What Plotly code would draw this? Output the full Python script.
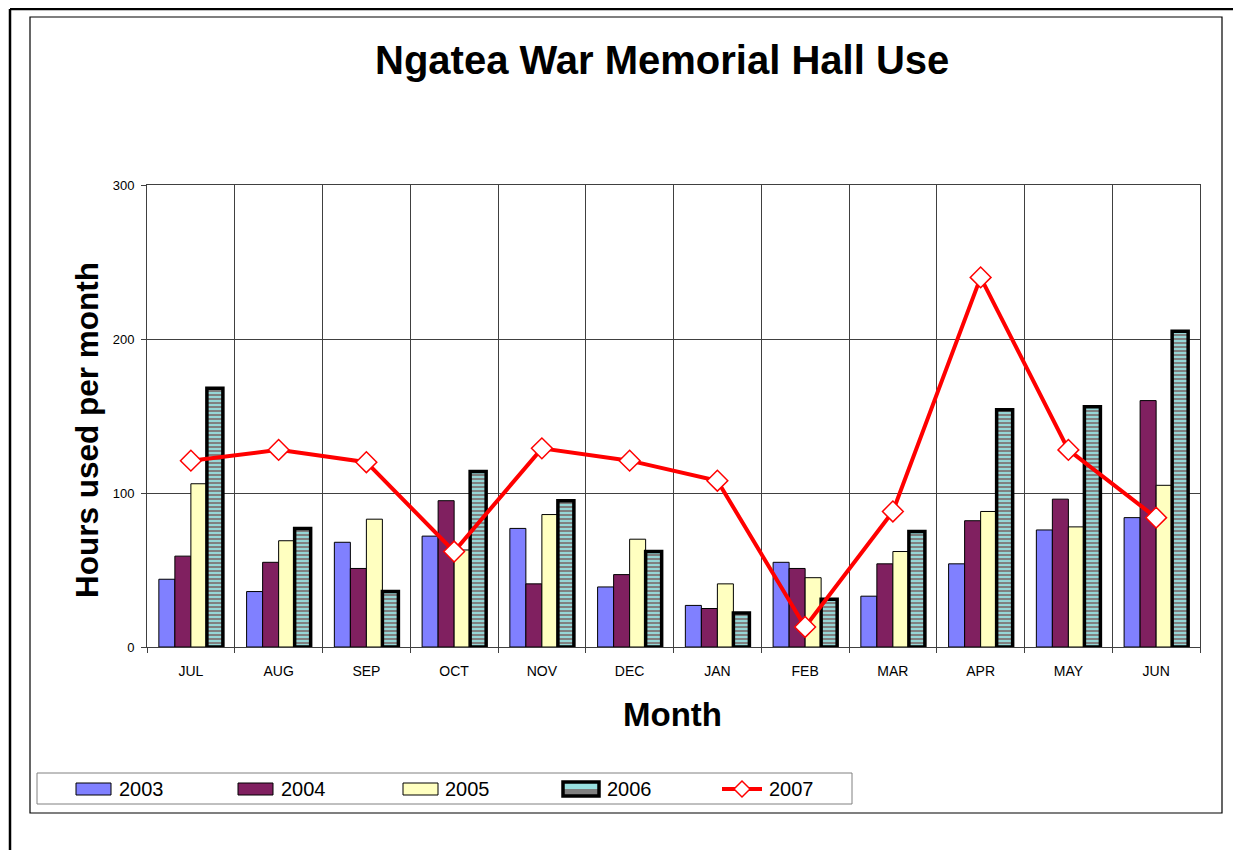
import plotly.graph_objects as go

# ---------------- data ----------------
months = ["JUL", "AUG", "SEP", "OCT", "NOV", "DEC", "JAN", "FEB", "MAR", "APR", "MAY", "JUN"]
y2003 = [44, 36, 68, 72, 77, 39, 27, 55, 33, 54, 76, 84]
y2004 = [59, 55, 51, 95, 41, 47, 25, 51, 54, 82, 96, 160]
y2005 = [106, 69, 83, 63, 86, 70, 41, 45, 62, 88, 78, 105]
y2006 = [168, 77, 36, 114, 95, 62, 22, 31, 75, 154, 156, 205]
y2007 = [121, 128, 120, 62, 129, 121, 108, 13, 88, 240, 128, 84]
series_names = ["2003", "2004", "2005", "2006", "2007"]
y_ticks = [0, 100, 200, 300]

# ---------------- geometry (page pixels; page body has an 8px margin) ----------------
OFF = 8
W, H = 1241 - OFF, 850 - OFF
PL, PR, PT, PB = 147, 1200, 185, 647   # plot area in page pixels


def px(x):
    return (x - PL) / (PR - PL)


def py(y):
    return (PB - y) / (PB - PT)


FONT = "Liberation Sans, Arial, sans-serif"
C2003, C2004, C2005 = "#8080FF", "#802060", "#FFFFC0"
C2006_BG, C2006_FG = "#99E0E0", "#808080"

fig = go.Figure()
fig.add_trace(go.Bar(x=months, y=y2003, name=series_names[0],
                     marker=dict(color=C2003, line=dict(color="#000000", width=1))))
fig.add_trace(go.Bar(x=months, y=y2004, name=series_names[1],
                     marker=dict(color=C2004, line=dict(color="#000000", width=1))))
fig.add_trace(go.Bar(x=months, y=y2005, name=series_names[2],
                     marker=dict(color=C2005, line=dict(color="#000000", width=1))))
fig.add_trace(go.Bar(x=months, y=y2006, name=series_names[3],
                     marker=dict(color=C2006_BG,
                                 pattern=dict(shape="-", fgcolor=C2006_FG, bgcolor=C2006_BG,
                                              size=4, solidity=0.55, fillmode="replace"),
                                 line=dict(color="#000000", width=3.5))))
fig.add_trace(go.Scatter(x=months, y=y2007, name=series_names[4], mode="lines+markers",
                         line=dict(color="#FF0000", width=4),
                         marker=dict(symbol="diamond", size=16, color="#FFFFFF",
                                     line=dict(color="#FF0000", width=1.5))))

shapes = []
# outer frame (thick) and inner frame (thin)
shapes.append(dict(type="line", xref="paper", yref="paper", x0=px(10), x1=px(1250),
                   y0=py(9), y1=py(9), line=dict(color="#000000", width=2.5)))
shapes.append(dict(type="line", xref="paper", yref="paper", x0=px(10), x1=px(10),
                   y0=py(9), y1=py(860), line=dict(color="#000000", width=2.5)))
shapes.append(dict(type="rect", xref="paper", yref="paper", x0=px(30), x1=px(1222),
                   y0=py(17), y1=py(813), line=dict(color="#000000", width=1.2)))
# legend box
shapes.append(dict(type="rect", xref="paper", yref="paper", x0=px(37), x1=px(852),
                   y0=py(773), y1=py(804), line=dict(color="#808080", width=1)))

annotations = []
leg_items = [(76, C2003, series_names[0], 117), (238, C2004, series_names[1], 279),
             (403, C2005, series_names[2], 443), (563, None, series_names[3], 605)]
for x0, col, name, tx in leg_items:
    if col is not None:
        shapes.append(dict(type="rect", xref="paper", yref="paper", x0=px(x0), x1=px(x0 + 35),
                           y0=py(783), y1=py(795), fillcolor=col,
                           line=dict(color="#000000", width=1)))
    else:
        shapes.append(dict(type="rect", xref="paper", yref="paper", x0=px(x0), x1=px(x0 + 36),
                           y0=py(783), y1=py(789), fillcolor=C2006_BG, line=dict(width=0)))
        shapes.append(dict(type="rect", xref="paper", yref="paper", x0=px(x0), x1=px(x0 + 36),
                           y0=py(789), y1=py(795), fillcolor=C2006_FG, line=dict(width=0)))
        shapes.append(dict(type="rect", xref="paper", yref="paper", x0=px(x0), x1=px(x0 + 36),
                           y0=py(782), y1=py(796), line=dict(color="#000000", width=3.5)))
    annotations.append(dict(text=name, xref="paper", yref="paper", x=px(tx), y=py(789),
                            xanchor="left", yanchor="middle", showarrow=False,
                            font=dict(family=FONT, size=20, color="#000000")))
# 2007 legend: red line + diamond
shapes.append(dict(type="line", xref="paper", yref="paper", x0=px(722), x1=px(762),
                   y0=py(789), y1=py(789), line=dict(color="#FF0000", width=4)))
cx, cy, r = 742, 789, 8
shapes.append(dict(type="path", xref="paper", yref="paper",
                   path=f"M {px(cx - r)},{py(cy)} L {px(cx)},{py(cy - r)} L {px(cx + r)},{py(cy)} L {px(cx)},{py(cy + r)} Z",
                   fillcolor="#FFFFFF", line=dict(color="#FF0000", width=1.5)))
annotations.append(dict(text=series_names[4], xref="paper", yref="paper", x=px(767), y=py(789),
                        xanchor="left", yanchor="middle", showarrow=False,
                        font=dict(family=FONT, size=20, color="#000000")))

# titles
annotations.append(dict(text="Ngatea War Memorial Hall Use", xref="paper", yref="paper",
                        x=px(662), y=py(60), xanchor="center", yanchor="middle", showarrow=False,
                        font=dict(family=FONT, size=40, color="#000000", weight="bold")))
annotations.append(dict(text="Hours used per month", xref="paper", yref="paper",
                        x=px(87), y=py(430), xanchor="center", yanchor="middle", showarrow=False,
                        textangle=-90,
                        font=dict(family=FONT, size=31.5, color="#000000", weight="bold")))
annotations.append(dict(text="Month", xref="paper", yref="paper",
                        x=px(672), y=py(714), xanchor="center", yanchor="middle", showarrow=False,
                        font=dict(family=FONT, size=33, color="#000000", weight="bold")))

fig.update_layout(
    width=W, height=H,
    margin=dict(l=PL - OFF, r=W - (PR - OFF), t=PT - OFF, b=H - (PB - OFF), pad=0),
    paper_bgcolor="#FFFFFF", plot_bgcolor="#FFFFFF",
    showlegend=False,
    barmode="group", bargap=0.27, bargroupgap=0,
    shapes=shapes, annotations=annotations,
    font=dict(family=FONT, color="#000000"),
)
fig.update_xaxes(type="category", range=[-0.5, 11.5], tickson="boundaries",
                 showgrid=True, gridcolor="#404040",
                 gridwidth=1, ticks="outside", ticklen=5, tickcolor="#404040",
                 ticklabelstandoff=11,
                 showline=True, linecolor="#404040", linewidth=1, mirror=True,
                 tickfont=dict(family=FONT, size=14, color="#000000"))
fig.update_yaxes(range=[0, 300], tickvals=y_ticks, showgrid=True, gridcolor="#404040",
                 gridwidth=1, ticks="outside", ticklen=5, tickcolor="#404040",
                 ticklabelstandoff=4,
                 showline=True, linecolor="#404040", linewidth=1, mirror=True, zeroline=False,
                 tickfont=dict(family=FONT, size=13, color="#000000"))

fig.write_html("out.html")
